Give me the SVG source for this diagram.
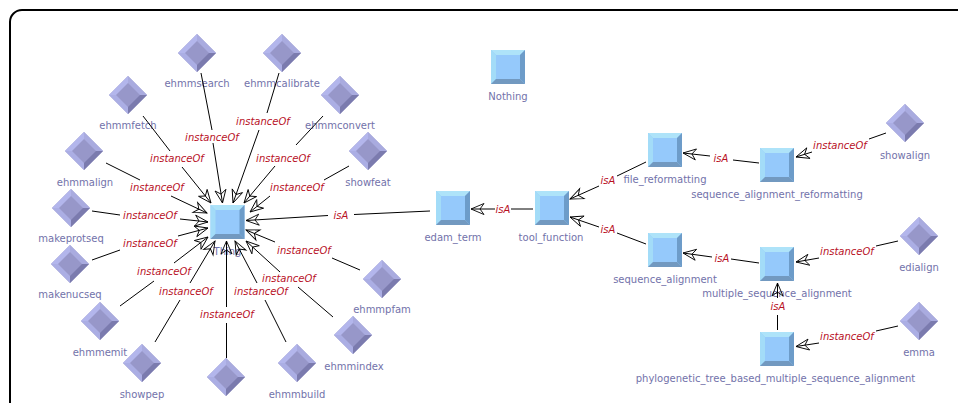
<svg xmlns="http://www.w3.org/2000/svg" width="958" height="403" viewBox="0 0 958 403">
<style>
.nl{font:10px "DejaVu Sans",sans-serif;fill:#7272aa;text-anchor:middle}
.el{font:italic 10px "DejaVu Sans",sans-serif;fill:#b8101f;text-anchor:middle}
.c{fill:none;stroke:#000;stroke-width:1;marker-end:url(#a)}
</style>
<defs>
<marker id="a" markerUnits="userSpaceOnUse" markerWidth="16" markerHeight="14" refX="14" refY="7" orient="auto" overflow="visible"><path d="M14,7L1,1.5L5,7L1,12.5Z" fill="none" stroke="#000" stroke-width="0.9"/></marker>
<g id="sq"><rect x="-17" y="-17" width="34" height="34" fill="#95c9fb"/><path d="M-17,-17H17L12,-12H-12Z" fill="#aee3f9"/><path d="M-17,-17V17L-12,12V-12Z" fill="#a3dcf8"/><path d="M17,-17V17L12,12V-12Z" fill="#6d9cc9"/><path d="M-17,17H17L12,12H-12Z" fill="#7299c0"/></g>
<g id="di"><path d="M0,-19L19,0L0,19L-19,0Z" fill="#9797c9"/><path d="M0,-19L-19,0L-12,0L0,-12Z" fill="#b3b6ec"/><path d="M0,-19L19,0L12,0L0,-12Z" fill="#a9abdf"/><path d="M-19,0L0,19L0,12L-12,0Z" fill="#abaee4"/><path d="M19,0L0,19L0,12L12,0Z" fill="#7b7bae"/></g>
</defs>
<rect x="10" y="10" width="1000" height="500" rx="12" fill="#fff" stroke="#000" stroke-width="2"/>
<g id="n-thing" transform="translate(227.5,222)"><use href="#sq"/><text class="nl" y="33">Thing</text></g>
<g id="n-nothing" transform="translate(508,67)"><use href="#sq"/><text class="nl" y="33">Nothing</text></g>
<g id="n-edam_term" transform="translate(453,208)"><use href="#sq"/><text class="nl" y="33">edam_term</text></g>
<g id="n-tool_function" transform="translate(552,208)"><use href="#sq"/><text class="nl" x="-1" y="33">tool_function</text></g>
<g id="n-file_reformatting" transform="translate(665,150)"><use href="#sq"/><text class="nl" y="33">file_reformatting</text></g>
<g id="n-sequence_alignment" transform="translate(665,250)"><use href="#sq"/><text class="nl" y="33">sequence_alignment</text></g>
<g id="n-sequence_alignment_reformatting" transform="translate(777,165)"><use href="#sq"/><text class="nl" y="33">sequence_alignment_reformatting</text></g>
<g id="n-multiple_sequence_alignment" transform="translate(777,264)"><use href="#sq"/><text class="nl" y="33">multiple_sequence_alignment</text></g>
<g id="n-phylo" transform="translate(777,349)"><use href="#sq"/><text class="nl" x="-1.5" y="33">phylogenetic_tree_based_multiple_sequence_alignment</text></g>
<g id="n-ehmmsearch" transform="translate(197,53)"><use href="#di"/><text class="nl" y="34">ehmmsearch</text></g>
<g id="n-ehmmcalibrate" transform="translate(282,53)"><use href="#di"/><text class="nl" y="34">ehmmcalibrate</text></g>
<g id="n-ehmmfetch" transform="translate(128,95)"><use href="#di"/><text class="nl" y="34">ehmmfetch</text></g>
<g id="n-ehmmconvert" transform="translate(340,95)"><use href="#di"/><text class="nl" y="34">ehmmconvert</text></g>
<g id="n-ehmmalign" transform="translate(84,151)"><use href="#di"/><text class="nl" x="1" y="35">ehmmalign</text></g>
<g id="n-showfeat" transform="translate(368,151)"><use href="#di"/><text class="nl" y="35">showfeat</text></g>
<g id="n-makeprotseq" transform="translate(71,208)"><use href="#di"/><text class="nl" y="34">makeprotseq</text></g>
<g id="n-makenucseq" transform="translate(70,264)"><use href="#di"/><text class="nl" y="34">makenucseq</text></g>
<g id="n-ehmmemit" transform="translate(100,321)"><use href="#di"/><text class="nl" y="35">ehmmemit</text></g>
<g id="n-showpep" transform="translate(142,363)"><use href="#di"/><text class="nl" y="35">showpep</text></g>
<g id="n-unnamed" transform="translate(226,377)"><use href="#di"/></g>
<g id="n-ehmmbuild" transform="translate(297,363)"><use href="#di"/><text class="nl" y="35">ehmmbuild</text></g>
<g id="n-ehmmindex" transform="translate(353,335)"><use href="#di"/><text class="nl" x="1" y="35">ehmmindex</text></g>
<g id="n-ehmmpfam" transform="translate(382,279)"><use href="#di"/><text class="nl" y="34">ehmmpfam</text></g>
<g id="n-showalign" transform="translate(905,123)"><use href="#di"/><text class="nl" y="36">showalign</text></g>
<g id="n-edialign" transform="translate(919,236)"><use href="#di"/><text class="nl" y="35">edialign</text></g>
<g id="n-emma" transform="translate(919,321)"><use href="#di"/><text class="nl" y="35">emma</text></g>
<g id="connectors">
<path class="c" d="M201,73L212,130M213,143L222.5,203"/><text class="el" x="212" y="141">instanceOf</text>
<path class="c" d="M279,73L267,113M259,130L233,203"/><text class="el" x="263" y="125">instanceOf</text>
<path class="c" d="M143,116L170,151M182,167L211,203"/><text class="el" x="177" y="162">instanceOf</text>
<path class="c" d="M323,116L296,145M275,166L244,203"/><text class="el" x="283" y="162">instanceOf</text>
<path class="c" d="M106,163L140,180M171,196L207,213"/><text class="el" x="157" y="191">instanceOf</text>
<path class="c" d="M349,166L324,180M270,196L250,212"/><text class="el" x="297" y="191">instanceOf</text>
<path class="c" d="M92,211L120,215M180,219L208,222"/><text class="el" x="150" y="219">instanceOf</text>
<path class="c" d="M92,260L120,250M178,236L208,228"/><text class="el" x="150" y="247">instanceOf</text>
<path class="c" d="M120,306L154,281M174,263L208,237"/><text class="el" x="164" y="275">instanceOf</text>
<path class="c" d="M155,342L180,300M190,283L215,241"/><text class="el" x="186" y="295">instanceOf</text>
<path class="c" d="M226.5,358V323M226.5,307V241"/><text class="el" x="227" y="318">instanceOf</text>
<path class="c" d="M286,342L265,300M257,283L235,241"/><text class="el" x="261" y="295">instanceOf</text>
<path class="c" d="M333,317L298,287M280,272L246,241"/><text class="el" x="289" y="282">instanceOf</text>
<path class="c" d="M360,270L332,258M275,242L246,230"/><text class="el" x="304" y="254">instanceOf</text>
<path class="c" d="M430,211L354,214.5M328,215.5L246,220.5"/><text class="el" x="341" y="219">isA</text>
<path class="c" d="M533,209H511M495,209H471"/><text class="el" x="503" y="213">isA</text>
<path class="c" d="M646,162L617,176M599,186L570,199"/><text class="el" x="608" y="184">isA</text>
<path class="c" d="M646,244L617,233M599,227L570,217"/><text class="el" x="608" y="233">isA</text>
<path class="c" d="M759,163L733,160M710,156L683,153"/><text class="el" x="721" y="162">isA</text>
<path class="c" d="M759,263L731,259M712,257L683,253"/><text class="el" x="722" y="262">isA</text>
<path class="c" d="M777.5,330V315M777.5,298V283"/><text class="el" x="778" y="310">isA</text>
<path class="c" d="M886,133L869,139M812,152L796,157"/><text class="el" x="840" y="149">instanceOf</text>
<path class="c" d="M898,241L876,246M819,258L796,262"/><text class="el" x="847" y="255">instanceOf</text>
<path class="c" d="M898,326L876,331M819,343L796,346.5"/><text class="el" x="847" y="340">instanceOf</text>
</g>
</svg>
